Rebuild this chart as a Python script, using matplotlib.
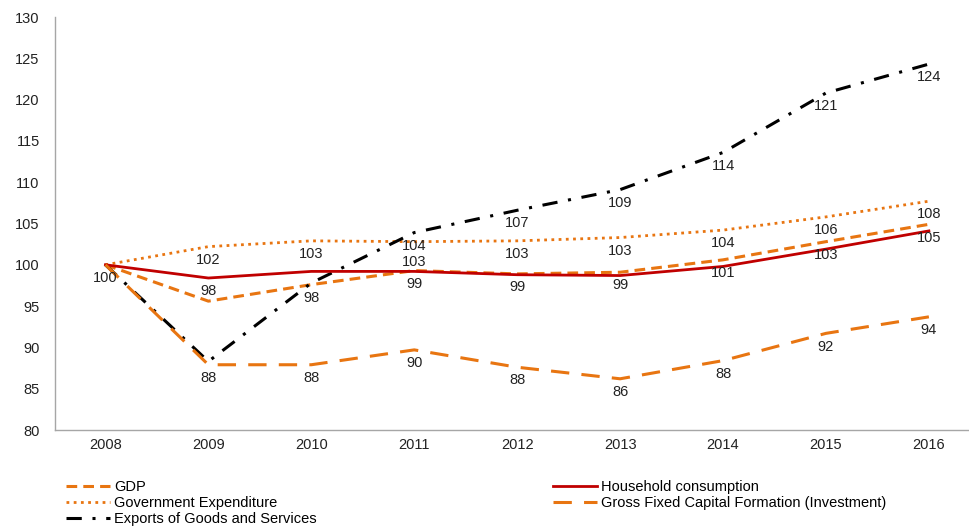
import matplotlib as mpl
from matplotlib import pyplot as plt

mpl.rcParams.update({
    "font.family": ["Liberation Sans", "DejaVu Sans"],
    "font.size": 10.5,
})

years = ["2008", "2009", "2010", "2011", "2012", "2013", "2014", "2015", "2016"]

gdp = [100, 95.6, 97.6, 99.3, 98.9, 99.1, 100.6, 102.8, 104.9]
household = [100, 98.4, 99.2, 99.2, 98.8, 98.7, 99.8, 101.9, 104.1]
government = [100, 102.2, 102.9, 102.8, 102.9, 103.3, 104.2, 105.8, 107.7]
gfcf = [100, 87.9, 87.9, 89.7, 87.6, 86.2, 88.4, 91.7, 93.7]
exports = [100, 88.3, 97.8, 103.9, 106.6, 109.1, 113.6, 120.8, 124.3]

# which points carry a data label in the original
gdp_lab = [0, 0, 1, 1, 1, 1, 1, 1, 1]
household_lab = [0, 1, 0, 0, 0, 0, 0, 0, 0]
government_lab = [0, 1, 1, 1, 1, 1, 1, 1, 1]
gfcf_lab = [0, 1, 1, 1, 1, 1, 1, 1, 1]
exports_lab = [1, 0, 0, 1, 1, 1, 1, 1, 1]

orange = "#E87511"
red = "#C00000"

fig = plt.figure(figsize=(9.7, 5.3), dpi=100)
ax = fig.add_axes([55 / 970, 1 - 430 / 530, 913 / 970, 413 / 530])

x = list(range(len(years)))
series = [
    ("GDP", gdp, gdp_lab, dict(color=orange, lw=2.2, dashes=(3.5, 2))),
    ("Government Expenditure", government, government_lab, dict(color=orange, lw=2, dashes=(1, 1.6))),
    ("Exports of Goods and Services", exports, exports_lab, dict(color="black", lw=2.2, dashes=(5, 3.5, 1, 3.5))),
    ("Household consumption", household, household_lab, dict(color=red, lw=2)),
    ("Gross Fixed Capital Formation (Investment)", gfcf, gfcf_lab, dict(color=orange, lw=2.2, dashes=(6, 4))),
]

handles = []
for name, vals, labs, style in series:
    h, = ax.plot(x, vals, label=name, **style)
    handles.append(h)

ax.set_ylim(80, 130)
ax.set_yticks(range(80, 131, 5))
ax.set_xlim(-0.49, 8.38)

# data labels below points, pushed down a bit when two would collide
px_per_unit = 413 / 50
used = {xi: [] for xi in x}
for name, vals, labs, style in sorted(series, key=lambda s: s[0] != "Exports of Goods and Services"):
    for xi, v, show in zip(x, vals, labs):
        if not show:
            continue
        off = -9.5
        pos = v * px_per_unit * 0.72 + off
        for p in used[xi]:
            if abs(pos - p) < 10:
                off -= 10 - abs(pos - p) + 1.5
                pos = v * px_per_unit * 0.72 + off
        used[xi].append(pos)
        ax.annotate(f"{v:.0f}", (xi, v), xytext=(0, off), textcoords="offset points",
                    ha="center", va="center", fontsize=10.5, color="#222222")

ax.set_xticks(x)
ax.set_xticklabels(years)
ax.tick_params(length=0, labelsize=10.5, colors="#222222")
ax.tick_params(axis="y", pad=11)
ax.tick_params(axis="x", pad=6)
for s in ["top", "right"]:
    ax.spines[s].set_visible(False)
for s in ["left", "bottom"]:
    ax.spines[s].set_color("#A6A6A6")
    ax.spines[s].set_linewidth(1)

fig.legend(handles=handles, loc="upper left", bbox_to_anchor=(66 / 970, 1 - 480 / 530),
           ncol=2, frameon=False, fontsize=10.5, handlelength=3, handletextpad=0.3,
           labelspacing=0.15, columnspacing=16.2, borderaxespad=0, borderpad=0)

fig.savefig("out.png", dpi=100)
